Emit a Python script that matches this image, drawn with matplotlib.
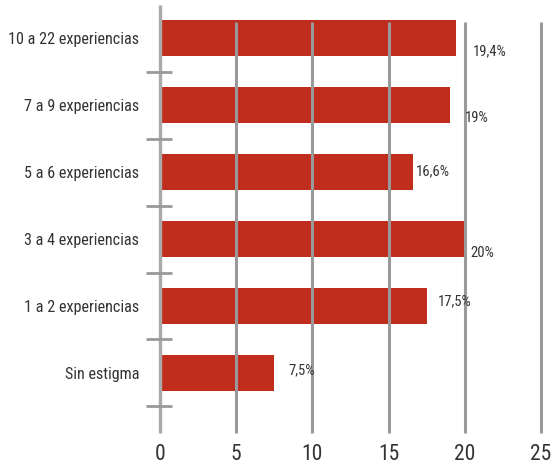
import matplotlib
matplotlib.use("Agg")
import matplotlib.pyplot as plt

plt.rcParams['font.family'] = ['Roboto Condensed', 'Archivo Narrow', 'DejaVu Sans']

categories = ["10 a 22 experiencias", "7 a 9 experiencias", "5 a 6 experiencias",
              "3 a 4 experiencias", "1 a 2 experiencias", "Sin estigma"]
values = [19.4, 19, 16.6, 20, 17.5, 7.5]
value_labels = ["19,4%", "19%", "16,6%", "20%", "17,5%", "7,5%"]
xticks = [0, 5, 10, 15, 20, 25]

# label nudges in points (dx, dy), the original places them unevenly
label_nudge = [(12, -9), (11, -9), (2, 1), (4, -10), (8, 3), (10, 2)]

red = "#c12d1c"
grey = "#9a9a9c"
text_c = "#333333"

fig = plt.figure(figsize=(5.56, 4.65), dpi=100)
ax = fig.add_axes([160 / 556, 1 - 433 / 465, (541 - 160) / 556, (433 - 5) / 465])

pos = list(range(len(categories)))
ax.barh(pos, values, height=0.54, color=red, zorder=1)

# grid lines sit on top of the bars
ax.vlines(xticks[1:], -0.24, 5.9, color=grey, lw=2.2, zorder=3, clip_on=False)
ax.vlines(0, -0.5, 5.9, color="#aaaaab", lw=2.4, zorder=3, clip_on=False)
ax.hlines([p + 0.5 for p in pos], -0.92, 0.79, color=grey, lw=2, zorder=3, clip_on=False)

for p, v, lab, (dx, dy) in zip(pos, values, value_labels, label_nudge):
    ax.annotate(lab, (v, p), xytext=(dx, dy), textcoords="offset points",
                ha="left", va="center", fontsize=10.5, color=text_c)

ax.set_xlim(0, 25)
ax.set_ylim(5.9, -0.5)
ax.set_xticks(xticks)
ax.set_xticklabels([str(t) for t in xticks], fontsize=15.5, color=text_c)
ax.set_yticks(pos)
ax.set_yticklabels(categories, fontsize=11.6, color=text_c)
ax.tick_params(axis="x", length=0, pad=8)
ax.tick_params(axis="y", length=0, pad=15)
for s in ax.spines.values():
    s.set_visible(False)

fig.savefig("out.png", dpi=100)
